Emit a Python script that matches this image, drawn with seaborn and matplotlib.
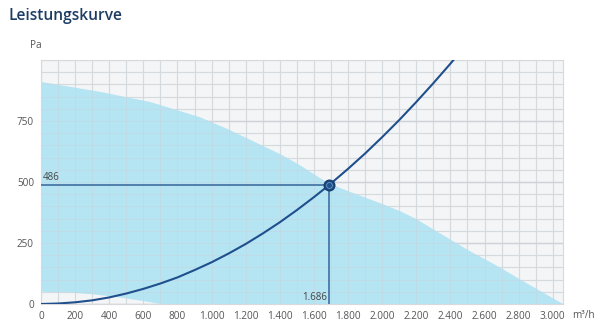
import matplotlib
matplotlib.use("Agg")
import matplotlib.pyplot as plt
import seaborn as sns
import numpy as np
import pandas as pd

# ---- data ----
fan_x = [0, 350, 640, 930, 1100, 1220, 1400, 1520, 1600, 1686, 1810, 2000, 2100, 2200, 2300, 2400, 2500, 2690, 2800, 3060]
fan_y = [910, 869, 828, 766, 715, 675, 615, 568, 532, 494, 460, 410, 382, 348, 306, 264, 222, 150, 104, 0]
low_x = [0, 150, 300, 450, 600, 700, 3060]
low_y = [50, 48, 40, 28, 12, 0, 0]
sys_x = [0, 100, 200, 300, 400, 500, 600, 700, 800, 900, 1000, 1100, 1200, 1300, 1400,
         1500, 1600, 1686, 1800, 1900, 2000, 2100, 2200, 2300, 2400, 2430]
sys_y = [0, 2, 7, 15, 27, 43, 62, 84, 109, 139, 171, 207, 246, 289, 335,
         385, 438, 486, 554, 617, 684, 754, 828, 905, 985, 1010]
op_x = 1686
op_y = 486
x_ticks = [0, 200, 400, 600, 800, 1000, 1200, 1400, 1600, 1800, 2000, 2200, 2400, 2600, 2800, 3000]
x_labels = ["0", "200", "400", "600", "800", "1.000", "1.200", "1.400", "1.600", "1.800",
            "2.000", "2.200", "2.400", "2.600", "2.800", "3.000"]
y_ticks = [0, 250, 500, 750]
y_labels = ["0", "250", "500", "750"]

sns.set_style("white")
plt.rcParams['font.family'] = ['Open Sans', 'DejaVu Sans']

fig = plt.figure(figsize=(6.0, 3.3), dpi=100)
ax = fig.add_axes([41/600, 1-304/330, (563-41)/600, (304-60)/330])
ax.set_facecolor("#f4f5f7")

# grid
for gx in range(0, 3100, 100):
    ax.axvline(gx, color="#dfe0e3", lw=0.9, zorder=0)
for gy in range(0, 1001, 50):
    ax.axhline(gy, color="#dfe0e3", lw=0.9, zorder=0)
for gy in y_ticks:
    ax.axhline(gy, color="#d2d3d7", lw=1.0, zorder=0)

# fan area polygon
poly_x = list(fan_x) + list(low_x[::-1])
poly_y = list(fan_y) + list(low_y[::-1])
ax.fill(poly_x, poly_y, color="#b5e4f3", lw=0, zorder=1)

# grid visible over fill
for gx in range(0, 3100, 100):
    ax.axvline(gx, color="#c9d3da", lw=0.6, alpha=0.5, zorder=2)
for gy in range(0, 1001, 50):
    ax.axhline(gy, color="#c9d3da", lw=0.6, alpha=0.5, zorder=2)

# system curve
df = pd.DataFrame({"x": sys_x, "y": sys_y})
sns.lineplot(data=df, x="x", y="y", ax=ax, color="#1f4f8c", lw=1.5, zorder=4,
             sort=False, estimator=None)

# operating point lines
ax.plot([0, op_x], [op_y, op_y], color="#4a78a8", lw=1.3, zorder=3)
ax.plot([op_x, op_x], [0, op_y], color="#4a78a8", lw=1.3, zorder=3)
ax.scatter([op_x], [op_y], s=55, facecolor="#1d5290", edgecolor="#163e6e", lw=1.2, zorder=5)
ax.scatter([op_x], [op_y], s=18, facecolor="#1d5290", edgecolor="#6f93bd", lw=0.6, zorder=6)

ax.text(10, op_y + 8, "486", fontsize=7, color="#444444", ha="left", va="bottom", zorder=6)
ax.text(op_x - 8, 6, "1.686", fontsize=7, color="#444444", ha="right", va="bottom", zorder=6)

ax.set_xlim(0, 3060)
ax.set_ylim(0, 1000)
ax.set_xticks(x_ticks)
ax.set_xticklabels(x_labels)
ax.set_yticks(y_ticks)
ax.set_yticklabels(y_labels)
ax.tick_params(axis="both", labelsize=7.2, colors="#555555", length=3, width=0.6,
               color="#aaaaaa", pad=2)
ax.set_xlabel("")
ax.set_ylabel("")
for s in ax.spines.values():
    s.set_color("#d8d9dc")
    s.set_linewidth(0.8)

fig.text(583/600, 1-316/330, "m³/h", fontsize=7.2, color="#555555", ha="center", va="center")
fig.text(36/600, 1-45/330, "Pa", fontsize=7.2, color="#555555", ha="center", va="center")
fig.text(8/600, 1-16/330, "Leistungskurve", fontsize=11.2, color="#1c3d63",
         ha="left", va="center", fontweight="semibold")

fig.savefig("out.png", dpi=100)
